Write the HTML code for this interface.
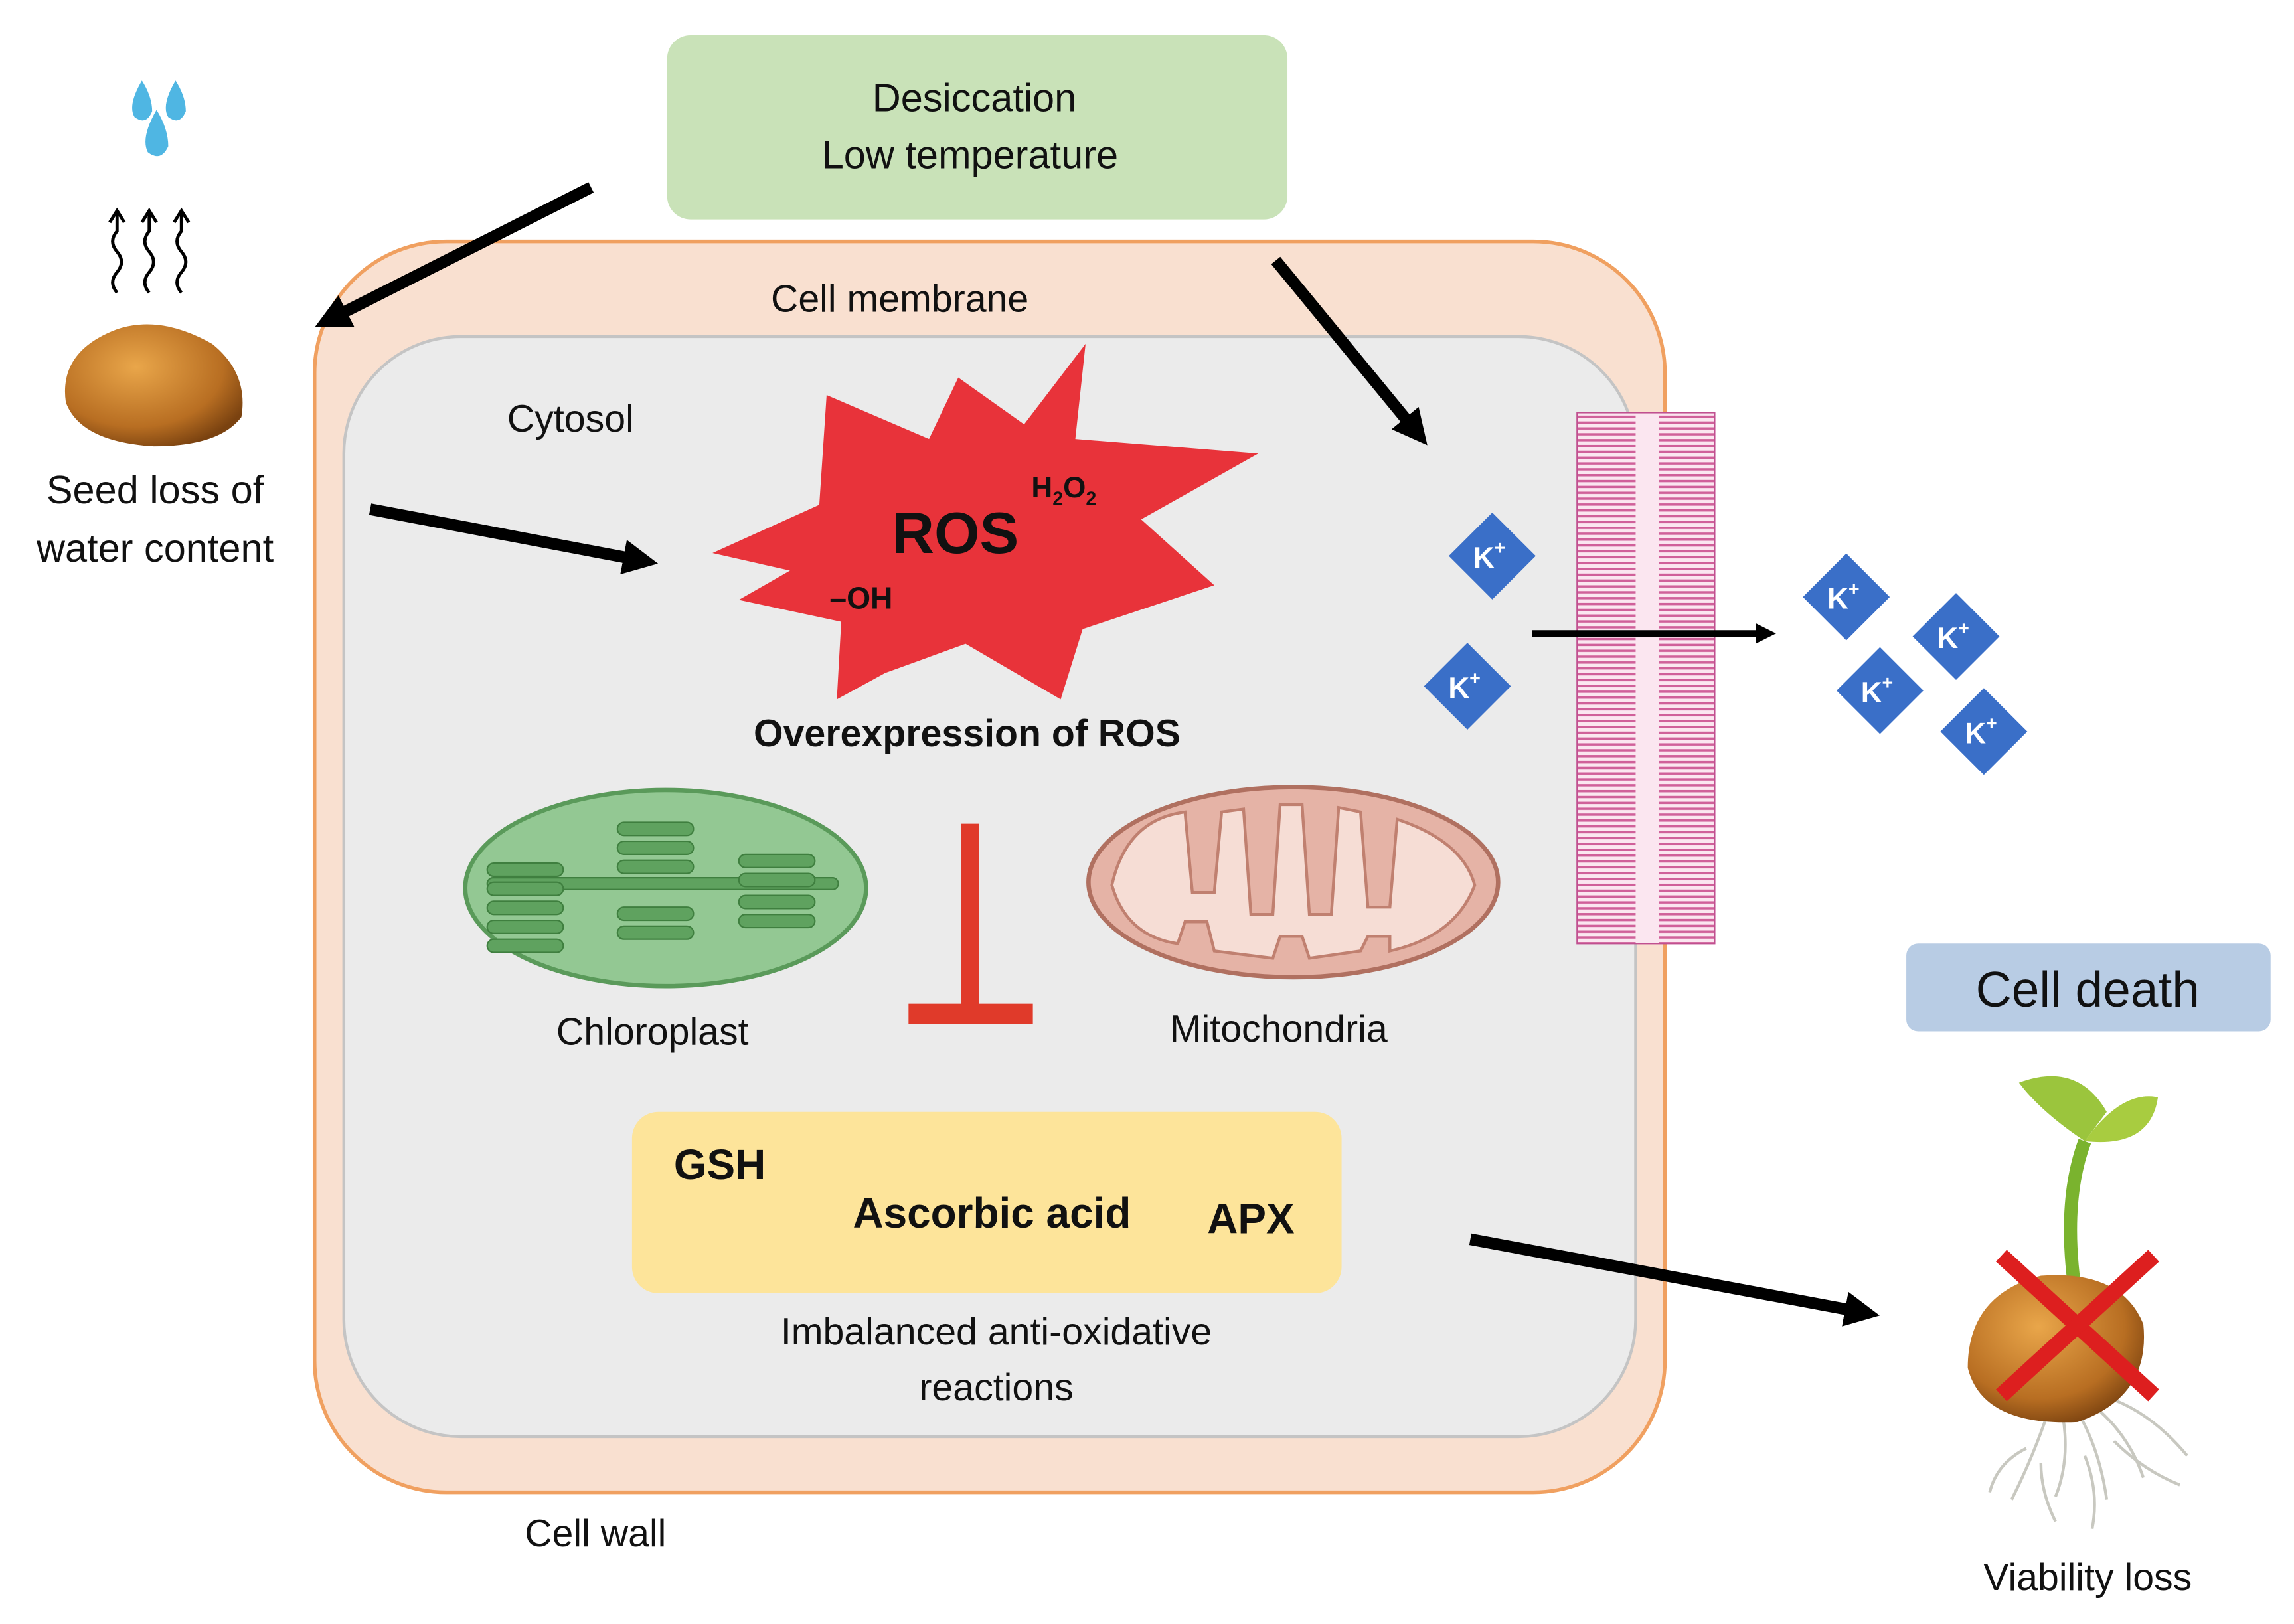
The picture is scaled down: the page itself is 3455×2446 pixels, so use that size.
<!DOCTYPE html>
<html><head><meta charset="utf-8"><style>
html,body{margin:0;padding:0;background:#fff}
svg{display:block}
text{font-family:"Liberation Sans",sans-serif;fill:#111}
</style></head><body>
<svg width="3455" height="2446" viewBox="0 0 1568 1110" xmlns="http://www.w3.org/2000/svg">
<defs>
<pattern id="lip" width="10" height="4" patternUnits="userSpaceOnUse">
<rect width="10" height="4" fill="#fbe6f0"/><rect y="0" width="10" height="1.6" fill="#d0609a"/>
</pattern>
<marker id="ah" markerWidth="3" markerHeight="3" refX="1.5" refY="1.5" orient="auto" markerUnits="strokeWidth">
<path d="M0,0 L3,1.5 L0,3 z" fill="#000"/></marker>
<radialGradient id="seed" cx="40%" cy="35%" r="70%"><stop offset="0" stop-color="#e9a64a"/><stop offset="0.7" stop-color="#b86e22"/><stop offset="1" stop-color="#7a4210"/></radialGradient>
</defs>

<rect x="456" y="24" width="424" height="126" rx="16" fill="#c9e2b8"/>
<text x="666" y="76" font-size="27" text-anchor="middle">Desiccation</text>
<text x="663" y="115" font-size="27" text-anchor="middle">Low temperature</text>

<rect x="215" y="165" width="923" height="855" rx="90" fill="#f9e0d0" stroke="#f0a060" stroke-width="2.5"/>
<rect x="235" y="230" width="883" height="752" rx="80" fill="#ebebeb" stroke="#c4c4c4" stroke-width="2"/>
<text x="615" y="213" font-size="26" text-anchor="middle">Cell membrane</text>
<text x="390" y="295" font-size="26" text-anchor="middle">Cytosol</text>
<text x="407" y="1057" font-size="26" text-anchor="middle">Cell wall</text>

<rect x="1078" y="282" width="46" height="363" fill="url(#lip)"/>
<rect x="1126" y="282" width="46" height="363" fill="url(#lip)"/>
<rect x="1118" y="282" width="16" height="363" fill="#fbe6f0"/>
<rect x="1078" y="282" width="94" height="363" fill="none" stroke="#c05090" stroke-width="1"/>

<polygon fill="#e8333a" points="487,378 560,345 565,270 635,300 655,258 700,290 742,235 735,300 860,310 780,355 830,400 740,430 725,478 660,440 605,460 572,478 575,425 505,410 540,390" />
<text x="653" y="378" font-size="40" font-weight="bold" text-anchor="middle">ROS</text>
<text x="705" y="340" font-size="20" font-weight="bold">H<tspan font-size="13" dy="5">2</tspan><tspan dy="-5">O</tspan><tspan font-size="13" dy="5">2</tspan></text>
<text x="567" y="416" font-size="21" font-weight="bold">–OH</text>
<text x="661" y="510" font-size="26" font-weight="bold" text-anchor="middle">Overexpression of ROS</text>

<ellipse cx="455" cy="607" rx="137" ry="67" fill="#93c893" stroke="#5a9a5a" stroke-width="3"/>
<g fill="#5fa25f" stroke="#3f7f3f" stroke-width="1">
<rect x="333" y="600" width="240" height="8" rx="4"/>
<rect x="333" y="603" width="52" height="9" rx="4.5"/><rect x="333" y="616" width="52" height="9" rx="4.5"/><rect x="333" y="629" width="52" height="9" rx="4.5"/><rect x="333" y="642" width="52" height="9" rx="4.5"/><rect x="333" y="590" width="52" height="9" rx="4.5"/>
<rect x="422" y="562" width="52" height="9" rx="4.5"/><rect x="422" y="575" width="52" height="9" rx="4.5"/><rect x="422" y="588" width="52" height="9" rx="4.5"/><rect x="422" y="620" width="52" height="9" rx="4.5"/><rect x="422" y="633" width="52" height="9" rx="4.5"/>
<rect x="505" y="584" width="52" height="9" rx="4.5"/><rect x="505" y="597" width="52" height="9" rx="4.5"/><rect x="505" y="612" width="52" height="9" rx="4.5"/><rect x="505" y="625" width="52" height="9" rx="4.5"/>
</g>
<text x="446" y="714" font-size="26" text-anchor="middle">Chloroplast</text>

<ellipse cx="884" cy="603" rx="140" ry="65" fill="#e5b3a6" stroke="#b07060" stroke-width="3"/>
<path d="M760,605 Q770,560 810,555 L815,610 L830,610 L835,555 L850,553 L855,625 L870,625 L875,550 L890,550 L895,625 L910,625 L915,552 L930,555 L935,620 L950,620 L955,560 Q1000,575 1008,605 Q995,640 950,650 L950,640 L935,640 L930,650 L895,655 L890,640 L875,640 L870,655 L830,650 L825,630 L810,630 L805,645 Q770,640 760,605 z" fill="#f6ddd5" stroke="#c08070" stroke-width="2"/>
<text x="874" y="712" font-size="26" text-anchor="middle">Mitochondria</text>

<rect x="657" y="563" width="12" height="130" fill="#e03a2a"/>
<rect x="621" y="686" width="85" height="14" fill="#e03a2a"/>

<rect x="432" y="760" width="485" height="124" rx="18" fill="#fde49a"/>
<text x="492" y="806" font-size="29" font-weight="bold" text-anchor="middle">GSH</text>
<text x="678" y="839" font-size="29" font-weight="bold" text-anchor="middle">Ascorbic acid</text>
<text x="855" y="843" font-size="29" font-weight="bold" text-anchor="middle">APX</text>
<text x="681" y="919" font-size="26" text-anchor="middle">Imbalanced anti-oxidative</text>
<text x="681" y="957" font-size="26" text-anchor="middle">reactions</text>

<g stroke="#000" stroke-width="8" fill="none">
<line x1="404" y1="128" x2="226" y2="218" marker-end="url(#ah)"/>
<line x1="872" y1="178" x2="968" y2="295" marker-end="url(#ah)"/>
<line x1="253" y1="348" x2="438" y2="383" marker-end="url(#ah)"/>
<line x1="1005" y1="847" x2="1273" y2="897" marker-end="url(#ah)"/>
</g>
<line x1="1047" y1="433" x2="1202" y2="433" stroke="#000" stroke-width="4.5"/>
<path d="M1200,426 L1214,433 L1200,440 z" fill="#000"/>

<g font-size="20" font-weight="bold">
<g transform="translate(1020,380)"><rect x="-21" y="-21" width="42" height="42" transform="rotate(45)" fill="#3a6fc8"/><text x="-2" y="8" text-anchor="middle" style="fill:#fff">K<tspan font-size="13" dy="-9">+</tspan></text></g>
<g transform="translate(1003,469)"><rect x="-21" y="-21" width="42" height="42" transform="rotate(45)" fill="#3a6fc8"/><text x="-2" y="8" text-anchor="middle" style="fill:#fff">K<tspan font-size="13" dy="-9">+</tspan></text></g>
<g transform="translate(1262,408)"><rect x="-21" y="-21" width="42" height="42" transform="rotate(45)" fill="#3a6fc8"/><text x="-2" y="8" text-anchor="middle" style="fill:#fff">K<tspan font-size="13" dy="-9">+</tspan></text></g>
<g transform="translate(1337,435)"><rect x="-21" y="-21" width="42" height="42" transform="rotate(45)" fill="#3a6fc8"/><text x="-2" y="8" text-anchor="middle" style="fill:#fff">K<tspan font-size="13" dy="-9">+</tspan></text></g>
<g transform="translate(1285,472)"><rect x="-21" y="-21" width="42" height="42" transform="rotate(45)" fill="#3a6fc8"/><text x="-2" y="8" text-anchor="middle" style="fill:#fff">K<tspan font-size="13" dy="-9">+</tspan></text></g>
<g transform="translate(1356,500)"><rect x="-21" y="-21" width="42" height="42" transform="rotate(45)" fill="#3a6fc8"/><text x="-2" y="8" text-anchor="middle" style="fill:#fff">K<tspan font-size="13" dy="-9">+</tspan></text></g>
</g>

<rect x="1303" y="645" width="249" height="60" rx="8" fill="#b8cce4"/>
<text x="1427" y="688" font-size="34" text-anchor="middle">Cell death</text>

<path d="M97,55 Q87,72 92,80 Q100,86 104,76 Q104,66 97,55 z M120,55 Q110,72 115,80 Q123,86 127,76 Q127,66 120,55 z M107,75 Q96,94 101,104 Q110,111 115,100 Q115,88 107,75 z" fill="#4fb6e3"/>
<g stroke="#000" stroke-width="2.2" fill="none">
<path d="M80,200 q-6,-7 0,-14 q6,-7 0,-14 q-6,-7 0,-14 l0,-12"/><path d="M75,152 l5,-8 l5,8"/>
<path d="M102,200 q-6,-7 0,-14 q6,-7 0,-14 q-6,-7 0,-14 l0,-12"/><path d="M97,152 l5,-8 l5,8"/>
<path d="M124,200 q-6,-7 0,-14 q6,-7 0,-14 q-6,-7 0,-14 l0,-12"/><path d="M119,152 l5,-8 l5,8"/>
</g>
<path d="M45,275 Q40,240 80,225 Q110,215 145,235 Q170,255 165,285 Q150,305 105,305 Q55,302 45,275 z" fill="url(#seed)"/>
<text x="106" y="344" font-size="27" text-anchor="middle">Seed loss of</text>
<text x="106" y="384" font-size="27" text-anchor="middle">water content</text>

<g stroke="#c8c8c0" stroke-width="2" fill="none">
<path d="M1400,965 q-10,30 -25,60"/><path d="M1410,968 q5,30 -5,55"/><path d="M1420,965 q15,25 20,60"/><path d="M1430,960 q25,20 35,50"/><path d="M1440,955 q30,10 55,40"/><path d="M1385,990 q-20,10 -25,30"/><path d="M1445,985 q20,20 45,30"/><path d="M1395,1000 q0,20 10,40"/><path d="M1425,995 q10,25 5,50"/>
</g>
<path d="M1418,880 Q1410,820 1425,780" stroke="#7ab32e" stroke-width="9" fill="none"/>
<path d="M1425,780 Q1395,760 1380,740 Q1420,725 1440,760 z" fill="#9bc53d"/>
<path d="M1425,780 Q1450,745 1475,750 Q1470,785 1425,780 z" fill="#a8cc40"/>
<path d="M1345,935 Q1345,885 1395,872 Q1450,868 1465,905 Q1470,955 1420,972 Q1355,975 1345,935 z" fill="url(#seed)"/>
<g stroke="#dd1f1f" stroke-width="11" stroke-linecap="square">
<line x1="1372" y1="862" x2="1468" y2="950"/><line x1="1468" y1="862" x2="1372" y2="950"/>
</g>
<text x="1427" y="1087" font-size="26" text-anchor="middle">Viability loss</text>
</svg>
</body></html>
